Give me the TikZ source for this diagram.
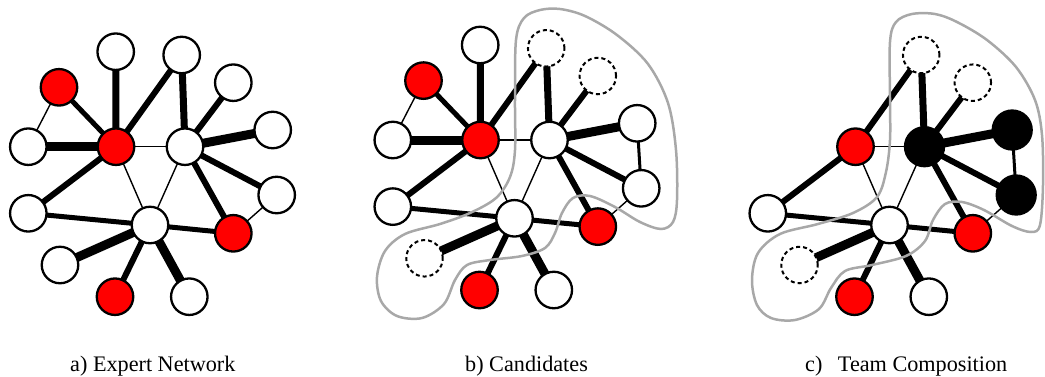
\documentclass[tikz,border=0pt]{standalone}
\usepackage{fontspec}
\setmainfont{Liberation Serif}
\pgfdeclarelayer{bg}
\pgfsetlayers{bg,main}
\definecolor{hull}{RGB}{168,168,168}
\tikzset{
  nd/.style={circle,draw=black,line width=2.3pt,minimum size=36.5pt,inner sep=0pt,fill=white},
  wn/.style={nd},
  rn/.style={nd,fill=red},
  dn/.style={nd,line width=2pt,dash pattern=on 4pt off 3pt},
  bn/.style={nd,fill=black,minimum size=39pt},
  e1/.style={line width=1.4pt},
  e3/.style={line width=3pt},
  e5/.style={line width=5pt},
  e6/.style={line width=6pt},
  e7/.style={line width=7pt},
  e9/.style={line width=9pt},
  hullline/.style={draw=hull,line width=2.5pt},
  lab/.style={anchor=base west,inner sep=0pt,font=\fontsize{22.2}{26}\selectfont}
}
\newcommand\sharededges[1]{%
  \draw[e6] (#1n2.center) -- (#1A.center);
  \draw[e1] (#1A.center) -- (#1B.center);
  \draw[e6] (#1A.center) -- (#1n8.center);
  \draw[e1] (#1A.center) -- (#1C.center);
  \draw[e7] (#1n2.center) -- (#1B.center);
  \draw[e6] (#1n4.center) -- (#1B.center);
  \draw[e9] (#1n5.center) -- (#1B.center);
  \draw[e6] (#1B.center) -- (#1n7.center);
  \draw[e6] (#1B.center) -- (#1D.center);
  \draw[e1] (#1B.center) -- (#1C.center);
  \draw[e1] (#1n7.center) -- (#1D.center);
  \draw[e5] (#1n8.center) -- (#1C.center);
  \draw[e5] (#1C.center) -- (#1D.center);
  \draw[e9] (#1C.center) -- (#1n9.center);
  \draw[e6] (#1C.center) -- (#1n10.center);
  \draw[e9] (#1C.center) -- (#1n11.center);
}
\newcommand\leftedges[1]{%
  \draw[e1] (#1n3.center) -- (#1n6.center);
  \draw[e5] (#1n3.center) -- (#1A.center);
  \draw[e7] (#1n1.center) -- (#1A.center);
  \draw[e9] (#1n6.center) -- (#1A.center);
}
\begin{document}
\begin{tikzpicture}[x=1pt,y=-1pt]
\useasboundingbox (0,0) rectangle (1045,376);
% ---------- panel a ----------
\begin{scope}
  \node[wn] (an1) at (115.7,51.7) {};
  \node[wn] (an2) at (181.7,55) {};
  \node[rn] (an3) at (59,87.3) {};
  \node[wn] (an4) at (233.3,82.7) {};
  \node[wn] (an5) at (272.7,130) {};
  \node[wn] (an6) at (28.3,146.7) {};
  \node[rn] (aA) at (116,146.7) {};
  \node[wn] (aB) at (185,146.7) {};
  \node[wn] (an7) at (276.7,195) {};
  \node[wn] (an8) at (28.3,213.3) {};
  \node[wn] (aC) at (150,225) {};
  \node[rn] (aD) at (233.3,233.3) {};
  \node[wn] (an9) at (60,265) {};
  \node[rn] (an10) at (115,296.7) {};
  \node[wn] (an11) at (189.3,296.7) {};
  \begin{pgfonlayer}{bg}
    \sharededges{a}
    \leftedges{a}
  \end{pgfonlayer}
\end{scope}
% ---------- panel b ----------
\begin{scope}[shift={(364.5,-6.7)}]
  \node[wn] (bn1) at (115.7,51.7) {};
  \node[dn] (bn2) at (181.7,55) {};
  \node[rn] (bn3) at (59,87.3) {};
  \node[dn] (bn4) at (233.3,82.7) {};
  \node[wn] (bn5) at (272.7,130) {};
  \node[wn] (bn6) at (28.3,146.7) {};
  \node[rn] (bA) at (116,146.7) {};
  \node[wn] (bB) at (185,146.7) {};
  \node[wn] (bn7) at (276.7,195) {};
  \node[wn] (bn8) at (28.3,213.3) {};
  \node[wn] (bC) at (150,225) {};
  \node[rn] (bD) at (233.3,233.3) {};
  \node[dn] (bn9) at (60,265) {};
  \node[rn] (bn10) at (115,296.7) {};
  \node[wn] (bn11) at (189.3,296.7) {};
  \begin{pgfonlayer}{bg}
    \sharededges{b}
    \leftedges{b}
    \draw[e3] (bn5.center) -- (bn7.center);
  \end{pgfonlayer}
\end{scope}
\draw[hullline] plot[smooth cycle,tension=0.55] coordinates {
  (515,100) (516,40) (524,18) (540,10) (560,9) (585,16) (617,35) (648,64)
  (668,103) (676,150) (677,200) (673,222) (661,229) (640,222) (615,207)
  (590,196) (573,198) (562,213) (555,233) (545,248) (522,256) (490,260)
  (467,265) (455,280) (444,304) (422,318) (397,316) (381,301) (377,277)
  (385,251) (405,234) (440,224) (470,213) (496,198) (510,177) (515,150)};
% ---------- panel c ----------
\begin{scope}[shift={(739.5,0)}]
  \node[dn] (cn2) at (181.7,55) {};
  \node[dn] (cn4) at (233.3,82.7) {};
  \node[bn] (cn5) at (272.7,130) {};
  \node[rn] (cA) at (116,146.7) {};
  \node[bn] (cB) at (185,146.7) {};
  \node[bn] (cn7) at (276.7,195) {};
  \node[wn] (cn8) at (28.3,213.3) {};
  \node[wn] (cC) at (150,225) {};
  \node[rn] (cD) at (233.3,233.3) {};
  \node[dn] (cn9) at (60,265) {};
  \node[rn] (cn10) at (115,296.7) {};
  \node[wn] (cn11) at (189.3,296.7) {};
  \begin{pgfonlayer}{bg}
    \sharededges{c}
    \draw[e3] (cn5.center) -- (cn7.center);
  \end{pgfonlayer}
\end{scope}
\draw[hullline] plot[smooth cycle,tension=0.55] coordinates {
  (890,100) (890,42) (896,22) (912,14) (935,14) (957,22) (987,40) (1016,67)
  (1035,100) (1042,135) (1043,185) (1040,225) (1031,232) (1012,226) (984,210)
  (962,202) (945,204) (933,220) (925,241) (906,256) (872,265) (845,271)
  (831,288) (819,309) (795,320) (771,318) (757,305) (752,280) (758,253)
  (780,234) (818,224) (853,213) (877,197) (886,172) (890,140)};
% ---------- labels ----------
\node[lab] (la) at (70,371) {a) Expert Network};
\node[lab] (lb) at (465,371) {b) Candidates};
\node[lab] (lc) at (805,371) {c)\hspace{0.7em}Team Composition};
\end{tikzpicture}
\end{document}
